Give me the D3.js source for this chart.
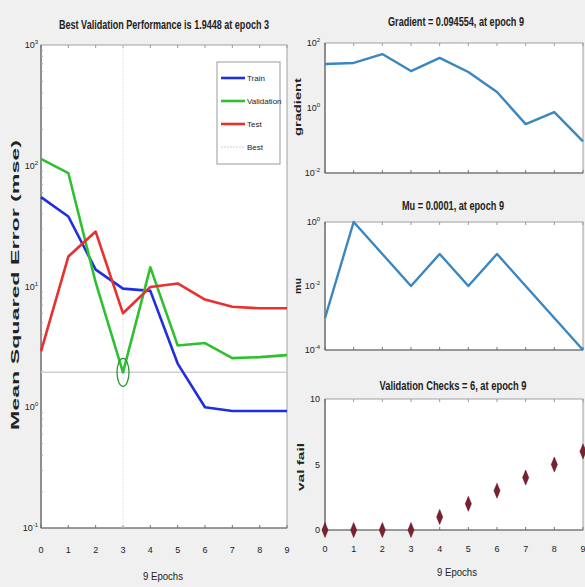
<!DOCTYPE html>
<html>
<head>
<meta charset="utf-8">
<script src="https://cdn.jsdelivr.net/npm/d3@7"></script>
<style>
  body { margin: 0; background: #f0f0f0; }
  svg { display: block; }
  text { font-family: "Liberation Sans Narrow", "Liberation Sans", Arial, sans-serif; fill: #222; }
</style>
</head>
<body>
<svg id="chart" width="585" height="587"></svg>
<script>
// data
const epochs = [0, 1, 2, 3, 4, 5, 6, 7, 8, 9];
const trainPerf = [55, 38, 13.8, 9.6, 9.2, 2.3, 1.0, 0.93, 0.93, 0.93];
const valPerf = [114, 87, 10.8, 1.9448, 14.4, 3.25, 3.4, 2.55, 2.6, 2.7];
const testPerf = [2.9, 17.7, 28.5, 6.0, 9.9, 10.6, 7.8, 6.8, 6.6, 6.6];
const bestEpoch = 3;
const bestPerf = 1.9448;
const gradient = [22.6, 24.3, 45.7, 13.7, 34.8, 12.8, 3.1, 0.32, 0.75, 0.094554];
const mu = [0.001, 1, 0.1, 0.01, 0.1, 0.01, 0.1, 0.01, 0.001, 0.0001];
const valFail = [0, 0, 0, 0, 1, 2, 3, 4, 5, 6];
const perfTicks = [-1, 0, 1, 2, 3];
const gradTicks = [-2, 0, 2];
const muTicks = [-4, -2, 0];
const valTicks = [0, 5, 10];

const svg = d3.select("#chart");

// helper: draw "10^e" tick label
function powLabel(g, x, y, e) {
    const t = g.append("text")
        .attr("x", x).attr("y", y + 3)
        .attr("text-anchor", "end")
        .attr("font-size", 9)
        .attr("fill", "#666");
    t.append("tspan").text("10");
    t.append("tspan").attr("dy", -4).attr("font-size", 6).text(e);
}

// draws box, x ticks, title and labels for one panel
function panelFrame(x, left, right, top, bottom, opts) {
    svg.append("rect")
        .attr("x", left).attr("y", top)
        .attr("width", right - left).attr("height", bottom - top)
        .attr("fill", "#fff")
        .attr("stroke", "#a0a0a0")
        .attr("stroke-width", 1);

    // x ticks inward top and bottom
    epochs.forEach(function (d) {
        svg.append("line")
            .attr("x1", x(d)).attr("x2", x(d))
            .attr("y1", bottom).attr("y2", bottom - 3)
            .attr("stroke", "#777");
        svg.append("line")
            .attr("x1", x(d)).attr("x2", x(d))
            .attr("y1", top).attr("y2", top + 3)
            .attr("stroke", "#999");
        if (opts.xLabels) {
            svg.append("text")
                .attr("x", x(d)).attr("y", opts.xLabelY)
                .attr("text-anchor", "middle")
                .attr("font-size", 9)
                .attr("fill", "#666")
                .text(d);
        }
    });

    // left + bottom axis lines darker
    svg.append("line").attr("x1", left).attr("x2", left).attr("y1", top).attr("y2", bottom)
        .attr("stroke", "#666").attr("stroke-width", 1.2);
    svg.append("line").attr("x1", left).attr("x2", right).attr("y1", bottom).attr("y2", bottom)
        .attr("stroke", "#666").attr("stroke-width", 1.2);

    svg.append("text")
        .attr("x", opts.titleX).attr("y", opts.titleY)
        .attr("text-anchor", "middle")
        .attr("font-size", 12)
        .attr("font-weight", "bold")
        .attr("fill", "#333")
        .attr("textLength", opts.titleW)
        .attr("lengthAdjust", "spacingAndGlyphs")
        .text(opts.title);

    svg.append("text")
        .attr("transform", "translate(" + opts.yLabX + "," + opts.yLabY + ") rotate(-90)")
        .attr("text-anchor", "middle")
        .attr("font-size", opts.yLabSize)
        .attr("font-weight", "bold")
        .attr("fill", "#444")
        .attr("textLength", opts.yLabW)
        .attr("lengthAdjust", "spacingAndGlyphs")
        .text(opts.yLab);
}

//---------------- performance panel
const xP = d3.scaleLinear().domain([0, 9]).range([41, 287]);
const yP = d3.scaleLog().domain([0.1, 1000]).range([528, 45]);

panelFrame(xP, 41, 287, 45, 528, {
    xLabels: true, xLabelY: 553,
    title: "Best Validation Performance is 1.9448 at epoch 3",
    titleX: 164, titleY: 29, titleW: 210,
    yLab: "Mean Squared Error  (mse)", yLabX: 19, yLabY: 285, yLabW: 290, yLabSize: 10
});

// minor log ticks
const gP = svg.append("g");
perfTicks.forEach(function (e) {
    powLabel(gP, 38, yP(Math.pow(10, e)), e);
    if (e < 3) {
        for (let m = 2; m < 10; m++) {
            const yy = yP(m * Math.pow(10, e));
            gP.append("line").attr("x1", 41).attr("x2", 43).attr("y1", yy).attr("y2", yy).attr("stroke", "#aaa");
        }
    }
});

// best lines
svg.append("line")
    .attr("x1", xP(bestEpoch)).attr("x2", xP(bestEpoch))
    .attr("y1", yP(1000)).attr("y2", yP(0.1))
    .attr("stroke", "#d8d8d8").attr("stroke-width", 1).attr("stroke-dasharray", "1,1");
svg.append("line")
    .attr("x1", xP(0)).attr("x2", xP(9))
    .attr("y1", yP(bestPerf)).attr("y2", yP(bestPerf))
    .attr("stroke", "#cfcfcf").attr("stroke-width", 1.5);

const lineP = function (vals) {
    return d3.line().x(function (d, i) { return xP(epochs[i]); }).y(function (d) { return yP(d); })(vals);
};

const series = [
    { name: "Train", vals: trainPerf, color: "#1f2fe0" },
    { name: "Validation", vals: valPerf, color: "#2fc02f" },
    { name: "Test", vals: testPerf, color: "#e83030" }
];
series.forEach(function (s) {
    svg.append("path")
        .attr("d", lineP(s.vals))
        .attr("fill", "none")
        .attr("stroke", s.color)
        .attr("stroke-width", 2.6)
        .attr("stroke-linejoin", "round");
});

// best circle
svg.append("ellipse")
    .attr("cx", xP(bestEpoch)).attr("cy", yP(bestPerf))
    .attr("rx", 6).attr("ry", 14)
    .attr("fill", "none").attr("stroke", "#2a9a3a").attr("stroke-width", 1.3);

// legend
const legend = svg.append("g");
legend.append("rect")
    .attr("x", 217).attr("y", 62).attr("width", 63).attr("height", 102)
    .attr("fill", "#fff").attr("stroke", "#9a9a9a");
const legendItems = series.concat([{ name: "Best", color: "#d0d0d0", dash: true }]);
legendItems.forEach(function (s, i) {
    const ly = 78 + i * 23;
    legend.append("line")
        .attr("x1", 221).attr("x2", 245).attr("y1", ly).attr("y2", ly)
        .attr("stroke", s.color)
        .attr("stroke-width", s.dash ? 1 : 2.6)
        .attr("stroke-dasharray", s.dash ? "2,1" : null);
    legend.append("text")
        .attr("x", 247).attr("y", ly + 3)
        .attr("font-size", 8).attr("fill", "#666")
        .text(s.name);
});

//---------------- right panels
const xR = d3.scaleLinear().domain([0, 9]).range([325, 583]);
const blue = "#3a86bf";

// gradient
const yG = d3.scaleLog().domain([0.01, 100]).range([173, 43]);
panelFrame(xR, 325, 583, 43, 173, {
    xLabels: false,
    title: "Gradient = 0.094554, at epoch 9",
    titleX: 456, titleY: 26, titleW: 136,
    yLab: "gradient", yLabX: 301, yLabY: 107, yLabW: 58, yLabSize: 9
});
const gG = svg.append("g");
gradTicks.forEach(function (e) { powLabel(gG, 320, yG(Math.pow(10, e)), e); });
svg.append("path")
    .attr("d", d3.line().x(function (d, i) { return xR(epochs[i]); }).y(function (d) { return yG(d); })(gradient))
    .attr("fill", "none").attr("stroke", blue).attr("stroke-width", 2.4).attr("stroke-linejoin", "round");

// mu
const yM = d3.scaleLog().domain([0.0001, 1]).range([350, 222]);
panelFrame(xR, 325, 583, 222, 350, {
    xLabels: false,
    title: "Mu = 0.0001, at epoch 9",
    titleX: 453, titleY: 210, titleW: 102,
    yLab: "mu", yLabX: 301, yLabY: 286, yLabW: 16, yLabSize: 9
});
const gM = svg.append("g");
muTicks.forEach(function (e) { powLabel(gM, 320, yM(Math.pow(10, e)), e); });
svg.append("path")
    .attr("d", d3.line().x(function (d, i) { return xR(epochs[i]); }).y(function (d) { return yM(d); })(mu))
    .attr("fill", "none").attr("stroke", blue).attr("stroke-width", 2.4).attr("stroke-linejoin", "round");

// validation checks
const yV = d3.scaleLinear().domain([0, 10]).range([530, 399]);
panelFrame(xR, 325, 583, 399, 530, {
    xLabels: true, xLabelY: 552,
    title: "Validation Checks = 6, at epoch 9",
    titleX: 453, titleY: 390, titleW: 147,
    yLab: "val fail", yLabX: 304, yLabY: 467, yLabW: 48, yLabSize: 9
});
valTicks.forEach(function (v) {
    svg.append("text")
        .attr("x", 320).attr("y", yV(v) + 3)
        .attr("text-anchor", "end").attr("font-size", 9).attr("fill", "#666")
        .text(v);
});
svg.append("g").selectAll("path")
    .data(valFail)
    .enter()
    .append("path")
    .attr("d", d3.symbol().type(d3.symbolDiamond).size(45))
    .attr("transform", function (d, i) { return "translate(" + xR(epochs[i]) + "," + yV(d) + ") scale(0.85,1.2)"; })
    .attr("fill", "#7a2030")
    .attr("stroke", "#5a1020")
    .attr("stroke-width", 0.5);

// x axis titles
svg.append("text").attr("x", 163).attr("y", 580).attr("text-anchor", "middle")
    .attr("font-size", 11).attr("fill", "#333").attr("textLength", 40).attr("lengthAdjust", "spacingAndGlyphs").text("9 Epochs");
svg.append("text").attr("x", 457).attr("y", 576).attr("text-anchor", "middle")
    .attr("font-size", 11).attr("fill", "#333").attr("textLength", 40).attr("lengthAdjust", "spacingAndGlyphs").text("9 Epochs");
</script>
</body>
</html>
